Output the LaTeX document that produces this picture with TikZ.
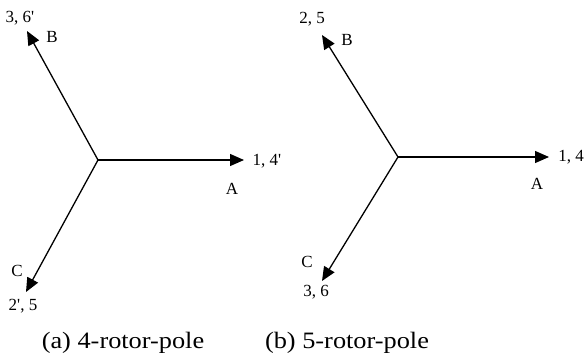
\documentclass[tikz,border=0pt]{standalone}
\usepackage{fontspec}
\setmainfont{Liberation Serif}[Ligatures=TeXOff]
\newfontfamily\capfont[FakeStretch=1.12]{Liberation Serif}
\usetikzlibrary{arrows.meta}
\tikzset{
  vec/.style={line width=1.3pt,-{Triangle[length=14pt,width=12pt]}},
  lbl/.style={inner sep=0pt,font=\fontsize{17}{20}\selectfont},
  captext/.style={inner sep=0pt,font=\capfont\fontsize{23.5}{26}\selectfont}
}
\begin{document}
\begin{tikzpicture}[x=1pt,y=-1pt]
\useasboundingbox (0,0) rectangle (588,356);
% (a)
\coordinate (Oa) at (98,160);
\coordinate (Aa) at (244,160);
\coordinate (Ba) at (27,31);
\coordinate (Ca) at (26,292);
\draw[vec] (Oa) -- (Aa);
\draw[vec] (Oa) -- (Ba);
\draw[vec] (Oa) -- (Ca);
\node[lbl] (na1) at (267,161) {1, 4'};
\node[lbl] (naA) at (232,189) {A};
\node[lbl] (na3) at (20,18) {3, 6'};
\node[lbl] (naB) at (52,37) {B};
\node[lbl] (naC) at (17,271) {C};
\node[lbl] (na2) at (23,306) {2', 5};
% (b)
\coordinate (Ob) at (398,157);
\coordinate (Ab) at (549,157);
\coordinate (Bb) at (322,35);
\coordinate (Cb) at (322,281);
\draw[vec] (Ob) -- (Ab);
\draw[vec] (Ob) -- (Bb);
\draw[vec] (Ob) -- (Cb);
\node[lbl] (nb1) at (571,157) {1, 4};
\node[lbl] (nbA) at (537,184) {A};
\node[lbl] (nb2) at (312,19) {2, 5};
\node[lbl] (nbB) at (347,40) {B};
\node[lbl] (nbC) at (307,262) {C};
\node[lbl] (nb3) at (316,292) {3, 6};
% captions
\node[captext] (capa) at (123,343) {(a) 4-rotor-pole};
\node[captext] (capb) at (347,343) {(b) 5-rotor-pole};
\end{tikzpicture}
\end{document}
